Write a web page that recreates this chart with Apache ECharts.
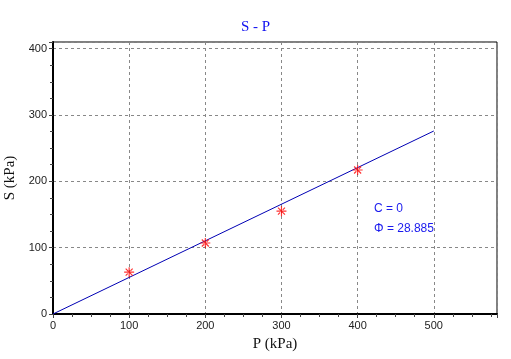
<!DOCTYPE html>
<html><head><meta charset="utf-8">
<script src="https://cdn.jsdelivr.net/npm/echarts@6/dist/echarts.min.js"></script>
<style>html,body{margin:0;padding:0;background:#fff}#c{width:511px;height:359px}</style>
</head><body><div id="c"></div>
<script>
const pressures = [100, 200, 300, 400];
const shear = [63, 107, 155, 217];
const fitP = [0, 500];
const cohesion = 0;
const phi = 28.885;
const fitS = fitP.map(p => cohesion + p * Math.tan(phi * Math.PI / 180));
const xTicks = [0, 100, 200, 300, 400, 500];
const yTicks = [0, 100, 200, 300, 400];

const star = 'path://M-6 -0.7L6 -0.7L6 0.7L-6 0.7Z M-0.7 -6L0.7 -6L0.7 6L-0.7 6Z M-3.7 -4.7L4.7 3.7L3.7 4.7L-4.7 -3.7Z M-3.7 4.7L4.7 -3.7L3.7 -4.7L-4.7 3.7Z M-1.8 -1.8L1.8 -1.8L1.8 1.8L-1.8 1.8Z';

const chart = echarts.init(document.getElementById('c'), null, {renderer: 'canvas'});
const axisLabelStyle = {color: '#222', fontFamily: 'Liberation Sans', fontSize: 11};
chart.setOption({
  animation: false,
  title: {text: 'S - P', left: 'center', top: 15,
    textStyle: {color: '#1010f0', fontFamily: 'Liberation Serif', fontSize: 15, fontWeight: 'normal'}},
  grid: {left: 53, right: 14, top: 42, bottom: 45, containLabel: false, outerBoundsMode: 'none',
    show: true, borderColor: '#000', borderWidth: 1, backgroundColor: 'transparent'},
  xAxis: {type: 'value', min: 0, max: 583, interval: 100,
    name: 'P (kPa)', nameLocation: 'middle', nameGap: 23,
    nameTextStyle: {color: '#111', fontFamily: 'Liberation Serif', fontSize: 15},
    axisLine: {show: true, onZero: false, lineStyle: {color: '#000', width: 2}},
    axisTick: {show: true, inside: false, length: 4, lineStyle: {color: '#444'}},
    minorTick: {show: true, splitNumber: 4, length: 3, lineStyle: {color: '#444'}},
    axisLabel: Object.assign({showMaxLabel: false, showMinLabel: true, margin: 6,
      formatter: v => xTicks.includes(v) ? String(v) : ''}, axisLabelStyle),
    splitLine: {show: true, lineStyle: {color: '#888', type: [3, 3], width: 1}}
  },
  yAxis: {type: 'value', min: 0, max: 410, interval: 100,
    name: 'S (kPa)', nameLocation: 'middle', nameGap: 31,
    nameTextStyle: {color: '#111', fontFamily: 'Liberation Serif', fontSize: 15},
    axisLine: {show: true, onZero: false, lineStyle: {color: '#000', width: 2}},
    axisTick: {show: true, inside: false, length: 4, lineStyle: {color: '#444'}},
    minorTick: {show: true, splitNumber: 4, length: 3, lineStyle: {color: '#444'}},
    axisLabel: Object.assign({showMaxLabel: false, margin: 6,
      formatter: v => yTicks.includes(v) ? String(v) : ''}, axisLabelStyle),
    splitLine: {show: true, lineStyle: {color: '#888', type: [3, 3], width: 1}}
  },
  series: [
    {type: 'line', data: fitP.map((p, i) => [p, fitS[i]]), showSymbol: false,
      lineStyle: {color: '#0000b4', width: 1}, z: 3},
    {type: 'scatter', data: pressures.map((p, i) => [p, shear[i]]),
      symbol: star, symbolSize: 10, itemStyle: {color: '#ff0000'}, z: 4}
  ],
  graphic: [
    {type: 'text', left: 374, top: 203, style: {text: 'C = ' + cohesion, fill: '#1a1aee', font: '12px "Liberation Sans"'}},
    {type: 'text', left: 374, top: 223, style: {text: 'Φ = ' + phi, fill: '#1a1aee', font: '12px "Liberation Sans"'}}
  ]
});
</script></body></html>
